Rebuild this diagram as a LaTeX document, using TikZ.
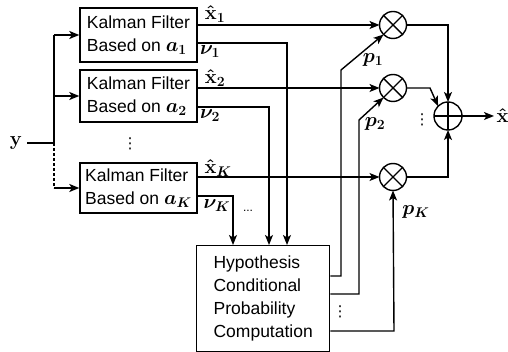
\RequirePackage{fix-cm}
\documentclass[tikz,border=0pt]{standalone}
\usepackage{amsmath,bm}
\usepackage[no-math]{fontspec}
\setmainfont{Liberation Sans}
\newfontfamily\dejavu{DejaVu Sans}
\usetikzlibrary{arrows.meta}
\newcommand\mymath[1]{{\fontsize{20}{23}\selectfont$\bm{#1}$}}
\newcommand\myvdots{{\dejavu\fontsize{15}{15}\selectfont ⋮}}
\begin{document}
\begin{tikzpicture}[x=1pt,y=-1pt, line width=1.4pt,
  every node/.style={font=\fontsize{17.5}{23}\selectfont},
  box/.style={draw, rectangle, align=left, inner sep=0pt},
  mult/.style={draw, circle, minimum size=27pt, inner sep=0pt, outer sep=0pt},
  arr/.style={-{Stealth[length=10pt,width=8pt,inset=2.5pt]}},
  lbl/.style={inner sep=0pt}]
\useasboundingbox (0,0) rectangle (508,352);

% Kalman filter boxes
\node[box, minimum width=117pt, minimum height=54pt] (kf1) at (138.5,35) {Kalman Filter\\Based on \mymath{a_1}};
\node[box, minimum width=117pt, minimum height=52pt] (kf2) at (138.5,96) {Kalman Filter\\Based on \mymath{a_2}};
\node[box, minimum width=117pt, minimum height=50pt] (kfK) at (138.5,188) {Kalman Filter\\Based on \mymath{a_K}};

% hypothesis box
\node[box, minimum width=133pt, minimum height=106pt, anchor=north west] (hc) at (196,245) {Hypothesis\\Conditional\\Probability\\Computation};

% input
\node[lbl] (y) at (16,143) {\mymath{\mathbf{y}}};
\coordinate (ys) at (27,143);
\coordinate (jy) at (54,143);
\coordinate (j1) at (54,35);
\coordinate (j2) at (54,96);
\coordinate (jK) at (54,188);
\draw (ys) -- (jy);
\draw (j1) -- (jy);
\draw[dash pattern=on 3pt off 2pt] (jy) -- (jK);
\draw[arr] (j1) -- (kf1.west);
\draw[arr] (j2) -- (kf2.west);
\draw[arr] (jK) -- (kfK.west);
\node[lbl] at (130,144) {\myvdots};

% multipliers and sum
\node[mult] (m1) at (393,25) {};
\node[mult] (m2) at (393,88) {};
\node[mult] (mK) at (393,177) {};
\foreach \m in {m1,m2,mK} {\draw (\m.45) -- (\m.225) (\m.135) -- (\m.315);}
\node[mult, minimum size=28pt] (s) at (448,116) {};
\draw (s.north) -- (s.south) (s.east) -- (s.west);

% estimates to multipliers
\draw[arr] (kf1.east |- m1) -- (m1);
\draw[arr] (kf2.east |- m2) -- (m2);
\draw[arr] (kfK.east |- mK) -- (mK);

% innovations to hypothesis box
\coordinate (n1) at (287,43);
\coordinate (n2) at (269,107);
\coordinate (nK) at (233,196);
\draw[arr] (kf1.east |- n1) -- (n1) -- (n1 |- hc.north);
\draw[arr] (kf2.east |- n2) -- (n2) -- (n2 |- hc.north);
\draw[arr] (kfK.east |- nK) -- (nK) -- (nK |- hc.north);

% probabilities
\coordinate (q1a) at (341,276);
\coordinate (q1b) at (341,70);
\coordinate (q2a) at (359,294);
\coordinate (q2b) at (359,120);
\coordinate (qKa) at (394,331);
\draw[arr] (hc.east |- q1a) -- (q1a) -- (q1b) -- (m1.225);
\draw[arr] (hc.east |- q2a) -- (q2a) -- (q2b) -- (m2.225);
\draw[arr] (hc.east |- qKa) -- (qKa) -- (mK.south);

% to sum
\coordinate (c1) at (448,25);
\coordinate (c2) at (430,88);
\coordinate (cK) at (448,177);
\draw[arr] (m1.east) -- (c1) -- (s.north);
\draw[arr] (m2.east) -- (c2) -- (s.135);
\draw[arr] (mK.east) -- (cK) -- (s.south);
\coordinate (out) at (494,116);
\draw[arr] (s.east) -- (out);
\node[lbl, anchor=west] at (496,116) {\mymath{\hat{\mathbf{x}}}};

% labels
\node[lbl] at (215,14) {\mymath{\hat{\mathbf{x}}_1}};
\node[lbl] at (210,52) {\mymath{\nu_1}};
\node[lbl] at (215,78) {\mymath{\hat{\mathbf{x}}_2}};
\node[lbl] at (210,116) {\mymath{\nu_2}};
\node[lbl] at (218,168) {\mymath{\hat{\mathbf{x}}_K}};
\node[lbl] at (217,206) {\mymath{\nu_K}};
\node[lbl] at (373,60) {\mymath{p_1}};
\node[lbl] at (375,124) {\mymath{p_2}};
\node[lbl] at (416,212) {\mymath{p_K}};
\node[lbl, font=\fontsize{12}{12}\selectfont] at (248,211) {...};
\node[lbl] at (422,120) {\myvdots};
\node[lbl] at (340,312) {\myvdots};
\end{tikzpicture}
\end{document}
